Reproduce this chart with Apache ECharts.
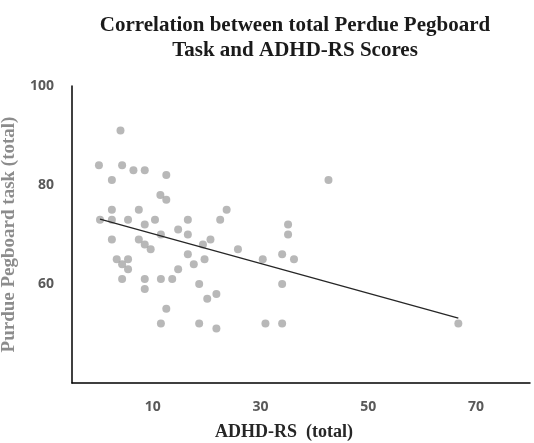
<!DOCTYPE html>
<html>
<head>
<meta charset="utf-8">
<script src="https://cdn.jsdelivr.net/npm/echarts@6/dist/echarts.min.js"></script>
<style>
  html, body { margin: 0; padding: 0; background: #fff; }
  #chart { width: 534px; height: 443px; }
</style>
</head>
<body>
<div id="chart"></div>
<script>
// ADHD-RS (total) vs Purdue Pegboard task (total)
const adhdScores = [
  4, 0, 4.3, 6.4, 8.5, 12.5, 2.4, 11.4, 12.5, 2.4,
  7.4, 0.2, 2.4, 5.4, 10.4, 16.5, 22.5, 8.5, 14.7, 11.5,
  16.5, 2.4, 7.4, 20.7, 8.5, 9.6, 19.3, 16.5, 19.6, 3.3,
  5.4, 4.3, 5.4, 17.6, 14.7, 4.3, 8.5, 11.5, 13.6, 8.5,
  18.6, 20.1, 21.8, 12.5, 11.5, 18.6, 21.8, 42.6, 23.7, 35.1,
  35.1, 25.8, 30.4, 34, 36.2, 34, 30.9, 34, 66.7
];
const pegboardScores = [
  91, 84, 84, 83, 83, 82, 81, 78, 77, 75,
  75, 73, 73, 73, 73, 73, 73, 72, 71, 70,
  70, 69, 69, 69, 68, 67, 68, 66, 65, 65,
  65, 64, 63, 64, 63, 61, 61, 61, 61, 59,
  60, 57, 58, 55, 52, 52, 51, 81, 75, 72,
  70, 67, 65, 66, 65, 60, 52, 52, 52
];
// trend line end points
const trendX = [0.2, 66.7];
const trendY = [73.1, 53.1];
const xTickLabels = [10, 30, 50, 70];
const yTickLabels = [60, 80, 100];

const points = adhdScores.map((x, i) => [x, pegboardScores[i]]);
const trend = trendX.map((x, i) => [x, trendY[i]]);

const chart = echarts.init(document.getElementById('chart'));

const tickLabelStyle = {
  color: '#595959',
  fontFamily: 'Open Sans',
  fontWeight: 'bold',
  fontSize: 14,
};

chart.setOption({
  animation: false,
  title: {
    text: 'Correlation between total Perdue Pegboard\nTask and ADHD-RS Scores',
    left: 290,
    top: 8,
    textAlign: 'center',
    textStyle: {
      fontFamily: 'Liberation Serif',
      fontWeight: 'bold',
      fontSize: 21,
      lineHeight: 25,
      color: '#1a1a1a',
    },
  },
  grid: { left: 72, right: 4, top: 86, bottom: 60, outerBoundsMode: 'none' },
  xAxis: {
    type: 'value',
    min: -5,
    max: 80,
    name: 'ADHD-RS  (total)',
    nameLocation: 'middle',
    nameGap: 40,
    nameTextStyle: {
      fontFamily: 'Liberation Serif',
      fontWeight: 'bold',
      fontSize: 18,
      color: '#262626',
      padding: [0, 34, 0, 0],
    },
    axisLine: { onZero: false, lineStyle: { color: '#000', width: 1.5 } },
    axisTick: { show: false },
    splitLine: { show: false },
    axisLabel: Object.assign({ customValues: xTickLabels, margin: 17 }, tickLabelStyle),
  },
  yAxis: {
    type: 'value',
    min: 40,
    max: 100,
    name: 'Purdue Pegboard task (total)',
    nameLocation: 'middle',
    nameRotate: 90,
    nameGap: 43,
    nameTextStyle: {
      fontFamily: 'Liberation Serif',
      fontWeight: 'bold',
      fontSize: 19,
      color: '#8c8c8c',
    },
    axisLine: { show: true, onZero: false, lineStyle: { color: '#000', width: 1.5 } },
    axisTick: { show: false },
    splitLine: { show: false },
    axisLabel: Object.assign({ customValues: yTickLabels, margin: 18 }, tickLabelStyle),
  },
  series: [
    {
      type: 'scatter',
      data: points,
      symbolSize: 8,
      itemStyle: { color: '#a6a6a6' },
    },
    {
      type: 'line',
      data: trend,
      symbol: 'none',
      lineStyle: { color: '#262626', width: 1.3 },
    },
  ],
});
</script>
</body>
</html>
